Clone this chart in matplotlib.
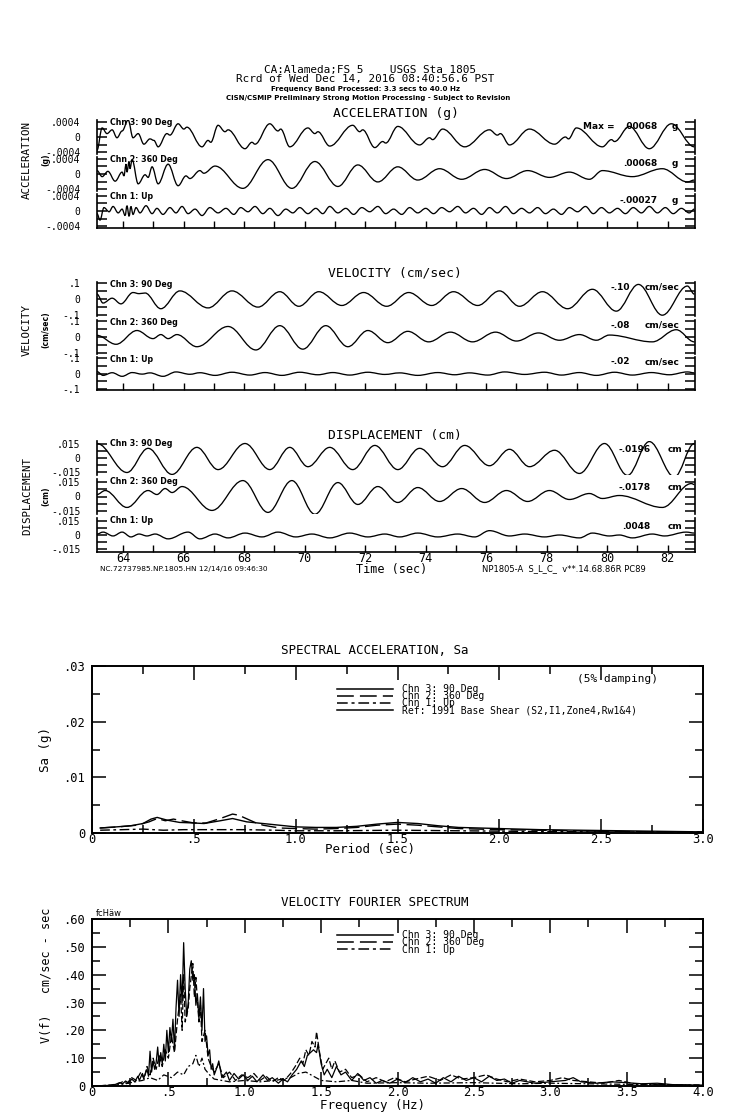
import numpy as np
import matplotlib
matplotlib.use("Agg")
import matplotlib.pyplot as plt
from matplotlib.lines import Line2D
from matplotlib.path import Path
from matplotlib.patches import PathPatch
from matplotlib.ticker import FixedLocator, FuncFormatter

# ======================= data =======================
# time-series: turning points (time in s, value)
acc3_t = [63.14, 63.31, 63.47, 63.64, 63.80, 63.97, 64.17, 64.33, 64.50, 64.69, 64.89, 65.02, 65.16, 65.45,
          65.55, 65.82, 66.01, 66.11, 66.61, 66.81, 66.90, 67.14, 67.37, 67.47, 68.03, 68.26, 68.36, 68.85,
          69.12, 69.21, 69.51, 70.11, 70.34, 70.44, 70.83, 71.59, 71.82, 71.92, 72.32, 72.58, 72.68, 73.08,
          73.80, 74.13, 74.23, 74.56, 75.29, 76.11, 76.37, 76.47, 76.77, 77.43, 78.26, 78.62, 78.72, 78.98,
          79.84, 80.14, 80.24, 80.73, 81.39, 82.12, 82.88]
acc3_v = [-.00035, .00024, .00009, .00019, -.00002, .00016, .00045, -.00002, .00009, -.00019, -.00005,
          -.00009, -.00026, .00009, .00005, .00035, .00021, .00026, -.00026, -.00009, -.00014, .00031,
          .00014, .00019, -.00031, -.00014, -.00019, .00035, .00016, .00021, -.00026, .00024, .00009,
          .00014, -.00024, .00031, .00014, .00019, -.00028, -.00012, -.00016, .00028, -.00021, -.00002,
          -.00007, .00021, -.00026, .00019, .00005, .00009, -.00021, .00021, -.00019, .00000, -.00005,
          .00024, -.00026, -.00007, -.00012, .00028, -.00031, .00035, -.00026]
acc2_t = [63.14, 63.31, 63.50, 63.74, 63.97, 64.03, 64.10, 64.13, 64.20, 64.23, 64.30, 64.50, 64.73, 64.83,
          64.96, 65.16, 65.49, 65.82, 66.08, 66.21, 66.54, 66.67, 67.04, 67.96, 68.79, 69.58, 70.34, 71.10,
          71.76, 72.42, 73.08, 73.74, 74.46, 75.19, 75.95, 76.67, 77.37, 78.09, 78.75, 79.41, 79.84, 80.83,
          81.82, 82.65, 82.88]
acc2_v = [.00009, -.00007, .00007, -.00019, .00005, -.00005, .00026, .00005, .00033, .00014, .00038,
          -.00026, -.00002, -.00009, .00019, -.00026, .00026, -.00031, -.00005, -.00012, .00009, .00002,
          .00021, -.00038, .00038, -.00038, .00033, -.00033, .00024, -.00021, .00019, -.00016, .00014,
          -.00014, .00012, -.00012, .00009, -.00009, .00005, -.00014, .00009, -.00007, .00014, -.00021,
          -.00016]
acc1_t = [63.14, 63.24, 63.37, 63.54, 63.67, 63.84, 63.97, 64.07, 64.13, 64.20, 64.26, 64.33, 64.43, 64.56,
          64.76, 64.96, 65.12, 65.32, 65.55, 65.75, 65.95, 66.15, 66.38, 66.61, 66.87, 67.14, 67.40, 67.66,
          67.89, 68.13, 68.36, 68.62, 68.85, 69.12, 69.38, 69.61, 69.84, 70.11, 70.37, 70.60, 70.83, 71.10,
          71.36, 71.62, 71.89, 72.15, 72.42, 72.68, 72.94, 73.21, 73.47, 73.74, 74.00, 74.26, 74.53, 74.79,
          75.06, 75.32, 75.58, 75.85, 76.11, 76.37, 76.64, 76.90, 77.17, 77.43, 77.70, 77.96, 78.22, 78.49,
          78.75, 79.02, 79.28, 79.54, 79.81, 80.07, 80.34, 80.60, 80.86, 81.13, 81.39, 81.66, 81.92, 82.18,
          82.45, 82.71, 82.88]
acc1_v = [-.00007, -.00024, .00009, -.00002, .00012, -.00005, .00005, -.00012, .00014, -.00014,
          .00012, -.00009, .00009, -.00005, .00014, -.00007, .00007, -.00009, .00009, -.00005,
          .00012, -.00007, .00005, -.00012, .00009, -.00005, .00007, -.00009, .00009, -.00002,
          .00012, -.00007, .00007, -.00012, .00005, -.00005, .00009, -.00007, .00007, -.00007,
          .00012, -.00005, .00007, -.00009, .00009, -.00002, .00012, -.00007, .00005, -.00009,
          .00009, -.00005, .00007, -.00007, .00009, -.00002, .00012, -.00005, .00007, -.00009,
          .00009, -.00005, .00012, -.00007, .00007, -.00005, .00009, -.00007, .00005, -.00009,
          .00009, -.00002, .00012, -.00007, .00009, -.00005, .00007, -.00007, .00009, -.00005,
          .00012, -.00005, .00009, -.00007, .00007, -.00005, .00005]

vel3_t = [63.14, 63.34, 63.64, 63.93, 64.33, 64.53, 64.73, 65.25, 65.88, 66.81, 67.60, 68.46, 69.18, 69.81,
          70.47, 71.23, 71.95, 72.71, 73.44, 74.20, 74.92, 75.72, 76.44, 77.10, 77.86, 78.69, 79.51, 80.30,
          81.03, 81.82, 82.65, 82.88]
vel3_v = [.03, -.025, .005, -.03, .04, .033, .037, -.06, .05, -.055, .05, -.05, .045, -.045, .045, -.04, .04,
          -.045, .04, -.04, .045, -.04, .05, -.045, .045, -.06, .06, -.075, .09, -.10, .08, .03]
vel2_t = [63.14, 63.77, 64.46, 64.99, 65.25, 65.49, 65.78, 66.44, 67.47, 68.39, 69.18, 69.94, 70.70, 71.43,
          72.09, 72.75, 73.41, 74.10, 74.82, 75.55, 76.31, 77.00, 77.73, 78.42, 79.08, 79.64, 80.07, 81.49,
          82.28, 82.88]
vel2_v = [.01, -.045, .04, -.01, .015, -.01, .015, -.06, .065, -.08, .07, -.075, .07, -.06, .04, -.035, .035,
          -.03, .03, -.03, .03, -.025, .025, -.02, .015, -.02, .012, -.03, .045, -.03]
vel1_t = [63.14, 63.34, 63.64, 63.97, 64.30, 64.63, 64.89, 65.32, 65.75, 66.21, 66.54, 67.04, 67.60, 68.19,
          68.69, 69.25, 69.84, 70.44, 70.93, 71.49, 72.09, 72.65, 73.14, 73.74, 74.40, 74.96, 75.45, 76.05,
          76.61, 77.27, 77.93, 78.49, 79.08, 79.64, 80.24, 80.83, 81.46, 82.05, 82.65, 82.88]
vel1_v = [.012, -.012, .005, -.018, .006, -.004, .004, -.018, .01, -.005, .005, -.012, .008, -.01, .006, -.012,
          .008, -.008, .006, -.01, .008, -.006, .004, -.012, .006, -.008, .004, -.01, .01, -.006, .008, -.01,
          .006, -.012, .008, -.01, .006, -.008, .01, .004]

disp3_t = [63.14, 64.13, 64.83, 65.62, 66.44, 67.14, 68.03, 68.85, 69.51, 70.11, 70.83, 71.59, 72.32, 73.08,
           73.80, 74.56, 75.29, 76.11, 76.77, 77.43, 78.26, 79.08, 79.91, 80.67, 81.39, 82.22, 82.88]
disp3_v = [.015, -.015, .010, -.017, .011, -.012, .015, -.012, .011, -.009, .011, -.012, .013, -.012,
           .010, -.009, .013, -.008, .009, -.009, .008, -.016, .015, -.018, .017, -.0196, .015]
disp2_t = [63.14, 63.41, 64.13, 64.83, 65.12, 65.39, 65.62, 65.95, 66.94, 67.96, 68.79, 69.58, 70.34, 71.10,
           71.76, 72.42, 73.08, 73.74, 74.46, 75.19, 75.95, 76.67, 77.37, 78.09, 78.75, 79.41, 79.84, 80.40,
           81.82, 82.78, 82.88]
disp2_v = [.002, .006, -.011, .006, .002, .008, .004, .010, -.014, .016, -.016, .016, -.0178, .014, -.008,
           .010, -.006, .009, -.005, .008, -.006, .006, -.005, .006, -.003, .003, -.002, .001, -.011, .013,
           .012]
disp1_t = [63.14, 63.34, 63.67, 63.97, 64.26, 64.53, 64.79, 65.06, 65.49, 66.15, 66.54, 67.04, 67.47, 68.03,
           68.59, 69.12, 69.71, 70.24, 70.83, 71.49, 72.09, 72.65, 73.14, 73.74, 74.40, 75.06, 75.62, 76.11,
           76.77, 77.27, 77.93, 78.42, 79.08, 79.51, 80.07, 80.40, 80.83, 81.49, 81.89, 82.61, 82.88]
disp1_v = [.001, .003, -.001, .003, -.002, .001, -.001, .001, -.004, .003, -.004, .001, -.003, .002, -.002,
           .003, -.002, .001, -.003, .002, -.002, .001, -.002, .002, -.002, .001, -.002, .0045, -.001, .001,
           -.002, .0, -.003, .002, -.001, .0, -.003, .001, -.001, .003, .002]

channel_labels = ["Chn 3: 90 Deg", "Chn 2: 360 Deg", "Chn 1: Up"]
acc_max = [".00068", ".00068", "-.00027"]
vel_max = ["-.10", "-.08", "-.02"]
dis_max = ["-.0196", "-.0178", ".0048"]

# spectral acceleration (period s, Sa g)
sa3_T = [0.04, 0.12, 0.19, 0.25, 0.29, 0.32, 0.37, 0.43, 0.50, 0.55, 0.63, 0.69, 0.76, 0.84, 0.92, 1.0, 1.1,
         1.2, 1.3, 1.4, 1.5, 1.6, 1.7, 1.8, 2.0, 2.2, 2.4, 2.6, 2.8, 3.0]
sa3_v = [.0009, .0011, .0013, .0017, .0025, .0028, .0023, .0019, .0018, .0017, .0022, .0026, .0020, .0017,
         .0014, .0011, .0010, .0010, .0012, .0016, .0019, .0017, .0013, .0010, .0008, .0006, .0005, .0004,
         .0003, .0002]
sa2_T = [0.04, 0.13, 0.22, 0.28, 0.32, 0.36, 0.40, 0.44, 0.50, 0.56, 0.63, 0.69, 0.72, 0.80, 0.84, 0.92, 1.0,
         1.1, 1.2, 1.3, 1.4, 1.5, 1.6, 1.7, 1.8, 2.0, 2.2, 2.5, 2.8, 3.0]
sa2_v = [.0009, .0011, .0014, .0020, .0026, .0022, .0025, .0022, .0018, .0018, .0026, .0034, .0032, .0019,
         .0014, .0009, .0008, .0007, .0008, .0010, .0014, .0016, .0014, .0011, .0008, .0006, .0005, .0003,
         .0002, .0002]
sa1_T = [0.04, 0.15, 0.25, 0.35, 0.45, 0.6, 0.75, 0.9, 1.0, 1.2, 1.5, 1.8, 2.1, 2.5, 3.0]
sa1_v = [.0005, .0006, .0007, .0005, .0006, .0006, .0006, .0005, .0004, .0004, .0005, .0004, .0003, .0002,
         .0002]

# velocity Fourier spectrum (Hz, cm/sec-sec)
fs3_f = [0.05, 0.10, 0.15, 0.18, 0.20, 0.22, 0.24, 0.26, 0.28, 0.30, 0.31, 0.33, 0.34, 0.36, 0.37, 0.38,
         0.39, 0.40, 0.41, 0.42, 0.43, 0.44, 0.45, 0.46, 0.47, 0.48, 0.49, 0.50, 0.51, 0.52, 0.53, 0.54,
         0.55, 0.56, 0.57, 0.58, 0.59, 0.60, 0.61, 0.62, 0.63, 0.64, 0.65, 0.66, 0.67, 0.68, 0.69, 0.70,
         0.71, 0.72, 0.73, 0.74, 0.75, 0.76, 0.77, 0.78, 0.79, 0.80, 0.82, 0.83, 0.85, 0.88, 0.90, 0.93,
         0.96, 0.99, 1.02, 1.05, 1.08, 1.12, 1.15, 1.18, 1.22, 1.25, 1.28, 1.31, 1.34, 1.37, 1.39, 1.41,
         1.43, 1.45, 1.47, 1.48, 1.50, 1.52, 1.54, 1.57, 1.60, 1.63, 1.66, 1.70, 1.74, 1.78, 1.82, 1.86,
         1.90, 1.95, 2.00, 2.05, 2.10, 2.15, 2.20, 2.25, 2.30, 2.35, 2.40, 2.45, 2.50, 2.55, 2.60, 2.65,
         2.70, 2.75, 2.80, 2.90, 3.00, 3.10, 3.15, 3.20, 3.30, 3.40, 3.50, 3.60, 3.70, 3.80, 3.90, 4.00]
fs3_v = [.001, .002, .005, .012, .008, .018, .010, .025, .015, .035, .020, .045, .030, .060, .035, .125,
         .050, .090, .060, .085, .140, .070, .120, .080, .150, .090, .200, .120, .210, .160, .240, .130,
         .280, .380, .250, .400, .300, .515, .350, .250, .300, .420, .450, .380, .400, .290, .330, .240,
         .320, .200, .350, .160, .180, .110, .130, .060, .080, .040, .070, .090, .030, .050, .020, .045,
         .025, .040, .020, .035, .015, .040, .020, .030, .010, .025, .015, .040, .060, .090, .070, .110,
         .120, .130, .120, .150, .080, .040, .060, .030, .070, .040, .050, .020, .045, .020, .030, .010,
         .020, .010, .025, .012, .030, .015, .025, .010, .030, .015, .035, .020, .030, .015, .035, .020,
         .025, .010, .020, .010, .015, .020, .030, .015, .010, .015, .012, .008, .010, .005, .004, .003]
fs2_f = [0.05, 0.12, 0.17, 0.20, 0.23, 0.26, 0.29, 0.32, 0.34, 0.36, 0.38, 0.40, 0.42, 0.44, 0.46, 0.48,
         0.50, 0.52, 0.54, 0.56, 0.58, 0.59, 0.60, 0.61, 0.63, 0.64, 0.66, 0.67, 0.68, 0.70, 0.71, 0.72,
         0.74, 0.76, 0.78, 0.80, 0.83, 0.86, 0.90, 0.94, 0.98, 1.02, 1.06, 1.10, 1.14, 1.18, 1.22, 1.26,
         1.30, 1.33, 1.36, 1.38, 1.40, 1.42, 1.44, 1.46, 1.47, 1.49, 1.51, 1.53, 1.55, 1.57, 1.59, 1.62,
         1.66, 1.70, 1.75, 1.80, 1.86, 1.92, 1.98, 2.05, 2.12, 2.20, 2.28, 2.35, 2.42, 2.50, 2.58, 2.65,
         2.72, 2.80, 2.90, 3.00, 3.08, 3.15, 3.25, 3.35, 3.45, 3.55, 3.70, 3.85, 4.00]
fs2_v = [.001, .003, .008, .015, .010, .030, .020, .050, .025, .070, .040, .100, .060, .110, .070, .130,
         .100, .180, .120, .240, .330, .200, .400, .230, .280, .350, .440, .320, .390, .230, .290, .160,
         .200, .100, .070, .050, .080, .030, .050, .020, .040, .030, .045, .020, .035, .015, .030, .020,
         .045, .070, .100, .080, .130, .110, .160, .140, .195, .120, .060, .080, .100, .060, .090, .050,
         .060, .030, .040, .015, .030, .015, .030, .015, .025, .035, .020, .040, .025, .030, .040, .025,
         .015, .025, .015, .020, .030, .020, .015, .010, .020, .008, .006, .004, .003]
fs1_f = [0.05, 0.15, 0.22, 0.28, 0.33, 0.38, 0.43, 0.47, 0.52, 0.56, 0.60, 0.63, 0.66, 0.68, 0.70, 0.72,
         0.74, 0.77, 0.80, 0.85, 0.90, 1.00, 1.10, 1.20, 1.30, 1.35, 1.40, 1.45, 1.50, 1.60, 1.70, 1.80,
         2.00, 2.20, 2.50, 2.80, 3.00, 3.50, 4.00]
fs1_v = [.001, .003, .008, .015, .020, .030, .020, .040, .030, .050, .040, .070, .080, .110, .070, .100,
         .060, .040, .025, .020, .015, .020, .015, .020, .030, .045, .050, .035, .020, .015, .020, .010,
         .012, .010, .012, .008, .010, .006, .003]

# ======================= figure =======================
W, H = 739, 1115
fig = plt.figure(figsize=(W / 100, H / 100), dpi=100)
MONO = "DejaVu Sans Mono"
SANS = "DejaVu Sans"


def add_ax(x0, y0, x1, y1):
    return fig.add_axes([x0 / W, 1 - y1 / H, (x1 - x0) / W, (y1 - y0) / H])


def strip0(v):
    if abs(v) < 1e-12:
        return "0"
    s = "%g" % v
    return s.replace("0.", ".")


def fmt_fixed(nd):
    def f(v, pos=None):
        if abs(v) < 1e-12:
            return "0"
        s = ("%." + str(nd) + "f") % v
        if s.startswith("0."):
            s = s[1:]
        return s
    return f


def smooth_trace(ax, t, v, lw=0.95):
    n = min(len(t), len(v))
    verts = [(t[0], v[0])]
    codes = [Path.MOVETO]
    for i in range(1, n):
        d = (t[i] - t[i - 1]) * 0.36
        verts += [(t[i - 1] + d, v[i - 1]), (t[i] - d, v[i]), (t[i], v[i])]
        codes += [Path.CURVE4] * 3
    ax.add_patch(PathPatch(Path(verts, codes), fill=False, edgecolor="black", lw=lw))


def ts_panel(rows, tick, lim, maxtxt, unit, series, num_pos, unit_pos, unit_ha, ylev, xlabels=False):
    for i, (a, b) in enumerate(rows):
        ax = add_ax(97, a, 695, b)
        ax.set_xlim(63.14, 82.9)
        ax.set_ylim(-lim, lim)
        ax.spines["top"].set_visible(False)
        ax.spines["bottom"].set_visible(i == 2)
        for s in ["left", "right", "bottom"]:
            ax.spines[s].set_linewidth(1.2)
        ax.yaxis.set_major_locator(FixedLocator([-tick, -tick / 2, 0, tick / 2, tick]))
        labs = {0: strip0(-tick), 2: "0", 4: strip0(tick)}
        ax.yaxis.set_major_formatter(FuncFormatter(lambda v, p, labs=labs: labs.get(p, "")))
        ax.tick_params(axis="y", which="both", direction="in", left=True, right=True, length=7, width=1.1,
                       labelsize=7, pad=12)
        if i == 2:
            ax.xaxis.set_major_locator(FixedLocator(np.arange(64, 83, 2)))
            ax.xaxis.set_minor_locator(FixedLocator(np.arange(65, 83, 2)))
            ax.tick_params(axis="x", which="both", direction="in", length=5, width=1.0, labelsize=8.5,
                           pad=0, labelbottom=xlabels)
        else:
            ax.set_xticks([])
        for lab in ax.get_yticklabels() + ax.get_xticklabels():
            lab.set_family(MONO)
        t, v = series[i]
        smooth_trace(ax, t, v)
        ax.text(0.022, 0.93, channel_labels[i], transform=ax.transAxes, fontsize=5.7, va="center", ha="left",
                family=SANS, fontweight="bold")
        ax.text(num_pos, ylev, maxtxt[i], transform=ax.transAxes, fontsize=6.5, va="center", ha="right",
                family=SANS, fontweight="bold")
        ax.text(unit_pos, ylev, unit, transform=ax.transAxes, fontsize=6.5, va="center", ha=unit_ha,
                family=SANS, fontweight="bold")
        if i == 0 and unit == "g":
            ax.text(0.813, ylev, "Max =", transform=ax.transAxes, fontsize=6.5, va="center", ha="left",
                    family=SANS, fontweight="bold")
    return ax


ts_panel([(120, 154), (157, 191), (194, 228)], 0.0004, 0.00045, acc_max, "g",
         [(acc3_t, acc3_v), (acc2_t, acc2_v), (acc1_t, acc1_v)], 0.937, 0.967, "center", 0.80)
ts_panel([(282, 316), (320, 354), (357, 390)], 0.1, 0.105, vel_max, "cm/sec",
         [(vel3_t, vel3_v), (vel2_t, vel2_v), (vel1_t, vel1_v)], 0.892, 0.915, "left", 0.85)
ts_panel([(441, 475), (479, 514), (518, 552)], 0.015, 0.0176, dis_max, "cm",
         [(disp3_t, disp3_v), (disp2_t, disp2_v), (disp1_t, disp1_v)], 0.926, 0.955, "left", 0.76,
         xlabels=True)

# header texts
fig.text(370 / W, 1 - 70 / H, "CA:Alameda;FS 5    USGS Sta 1805", family=MONO, fontsize=7.9,
         ha="center", va="center")
fig.text(365 / W, 1 - 79 / H, "Rcrd of Wed Dec 14, 2016 08:40:56.6 PST", family=MONO, fontsize=7.9,
         ha="center", va="center")
fig.text(366 / W, 1 - 89 / H, "Frequency Band Processed: 3.3 secs to 40.0 Hz", family=SANS,
         fontweight="bold", fontsize=5.1, ha="center", va="center")
fig.text(368 / W, 1 - 98 / H, "CISN/CSMIP Preliminary Strong Motion Processing - Subject to Revision",
         family=SANS, fontweight="bold", fontsize=5.0, ha="center", va="center")
fig.text(396 / W, 1 - 113 / H, "ACCELERATION (g)", family=MONO, fontsize=9.4, ha="center", va="center")
fig.text(395 / W, 1 - 273 / H, "VELOCITY (cm/sec)", family=MONO, fontsize=9.4, ha="center", va="center")
fig.text(395 / W, 1 - 436 / H, "DISPLACEMENT (cm)", family=MONO, fontsize=9.4, ha="center", va="center")
for (txt, sub, yc) in [("ACCELERATION", "(g)", 160), ("VELOCITY", "(cm/sec)", 330),
                       ("DISPLACEMENT", "(cm)", 496)]:
    fig.text(27 / W, 1 - yc / H, txt, family=MONO, fontsize=7.8, rotation=90, ha="center", va="center")
    fig.text(46 / W, 1 - yc / H, sub, family=SANS, fontweight="bold", fontsize=5.5, rotation=90,
             ha="center", va="center")
fig.text(100 / W, 1 - 569 / H, "NC.72737985.NP.1805.HN 12/14/16 09:46:30", family=SANS,
         fontsize=5.3, ha="left", va="center")
fig.text(392 / W, 1 - 569 / H, "Time (sec)", family=MONO, fontsize=8.5, ha="center", va="center")
fig.text(482 / W, 1 - 569 / H, "NP1805-A  S_L_C_  v**.14.68.86R PC89", family=SANS,
         fontsize=6.0, ha="left", va="center")

# legend handles
LS2 = (0, (11, 4))
LS1 = (0, (7, 2.5, 2, 2.5))
handles = [Line2D([], [], color="k", lw=1.1, ls="-"),
           Line2D([], [], color="k", lw=1.1, ls=LS2),
           Line2D([], [], color="k", lw=1.1, ls=LS1),
           Line2D([], [], color="k", lw=1.1, ls="-")]


def spec_axes(y0, y1, xmax, ymax, ymaj, ymin_, yfmt):
    ax = add_ax(92, y0, 703, y1)
    ax.set_xlim(0, xmax)
    ax.set_ylim(0, ymax)
    ax.xaxis.set_major_locator(FixedLocator(np.arange(0, xmax + 0.01, 0.5)))
    ax.xaxis.set_minor_locator(FixedLocator(np.arange(0.25, xmax, 0.5)))
    ax.yaxis.set_major_locator(FixedLocator(ymaj))
    ax.yaxis.set_minor_locator(FixedLocator(ymin_))
    ax.xaxis.set_major_formatter(FuncFormatter(fmt_fixed(1)))
    ax.yaxis.set_major_formatter(FuncFormatter(fmt_fixed(yfmt)))
    ax.tick_params(which="both", direction="in", top=True, right=True, width=1.1, labelsize=8.7)
    ax.tick_params(axis="x", pad=0)
    ax.tick_params(axis="y", pad=5)
    ax.tick_params(which="major", length=10)
    ax.tick_params(which="minor", length=6)
    for s in ax.spines.values():
        s.set_linewidth(1.4)
    for lab in ax.get_xticklabels() + ax.get_yticklabels():
        lab.set_family(MONO)
    return ax


# ---------------- spectral acceleration ----------------
axs = spec_axes(666, 833, 3.0, 0.03, [0, .01, .02, .03], [.005, .015, .025], 2)
axs.plot(sa3_T, sa3_v, color="k", lw=1.0, ls="-")
axs.plot(sa2_T, sa2_v, color="k", lw=1.0, ls=LS2)
axs.plot(sa1_T, sa1_v, color="k", lw=1.0, ls=LS1)
fig.text(375 / W, 1 - 650 / H, "SPECTRAL ACCELERATION, Sa", family=MONO, fontsize=9, ha="center", va="center")
fig.text(370 / W, 1 - 850 / H, "Period (sec)", family=MONO, fontsize=9, ha="center", va="center")
fig.text(46 / W, 1 - 750 / H, "Sa (g)", family=MONO, fontsize=9, rotation=90, ha="center", va="center")
fig.text(658 / W, 1 - 679 / H, "(5% damping)", family=MONO, fontsize=8, ha="right", va="center")
axs.legend(handles, ["Chn 3: 90 Deg", "Chn 2: 360 Deg", "Chn 1: Up", "Ref: 1991 Base Shear (S2,I1,Zone4,Rw1&4)"],
           loc="upper left", bbox_to_anchor=(0.395, 0.915), frameon=False, prop={"family": MONO, "size": 7},
           handlelength=5.7, handletextpad=1.0, labelspacing=-0.3, borderaxespad=0)

# ---------------- Fourier ----------------
axf = spec_axes(919, 1086, 4.0, 0.60, np.arange(0, 0.61, 0.1), np.arange(0.05, 0.6, 0.1), 2)
axf.plot(fs3_f, fs3_v, color="k", lw=0.9, ls="-")
axf.plot(fs2_f, fs2_v, color="k", lw=0.9, ls=(0, (5, 2)))
axf.plot(fs1_f, fs1_v, color="k", lw=0.9, ls=(0, (5, 2, 1.5, 2)))
fig.text(375 / W, 1 - 903 / H, "VELOCITY FOURIER SPECTRUM", family=MONO, fontsize=9, ha="center", va="center")
fig.text(372 / W, 1 - 1106 / H, "Frequency (Hz)", family=MONO, fontsize=9, ha="center", va="center")
fig.text(46 / W, 1 - 975 / H, "V(f)   cm/sec - sec", family=MONO, fontsize=8.5, rotation=90, ha="center",
         va="center")
fig.text(96 / W, 1 - 913 / H, "fcHäw", family=SANS, fontsize=6, ha="left", va="center")
axf.legend(handles[:3], ["Chn 3: 90 Deg", "Chn 2: 360 Deg", "Chn 1: Up"],
           loc="upper left", bbox_to_anchor=(0.395, 0.955), frameon=False, prop={"family": MONO, "size": 7},
           handlelength=5.7, handletextpad=1.0, labelspacing=-0.3, borderaxespad=0)

fig.savefig("out.png", dpi=100, facecolor="white")
